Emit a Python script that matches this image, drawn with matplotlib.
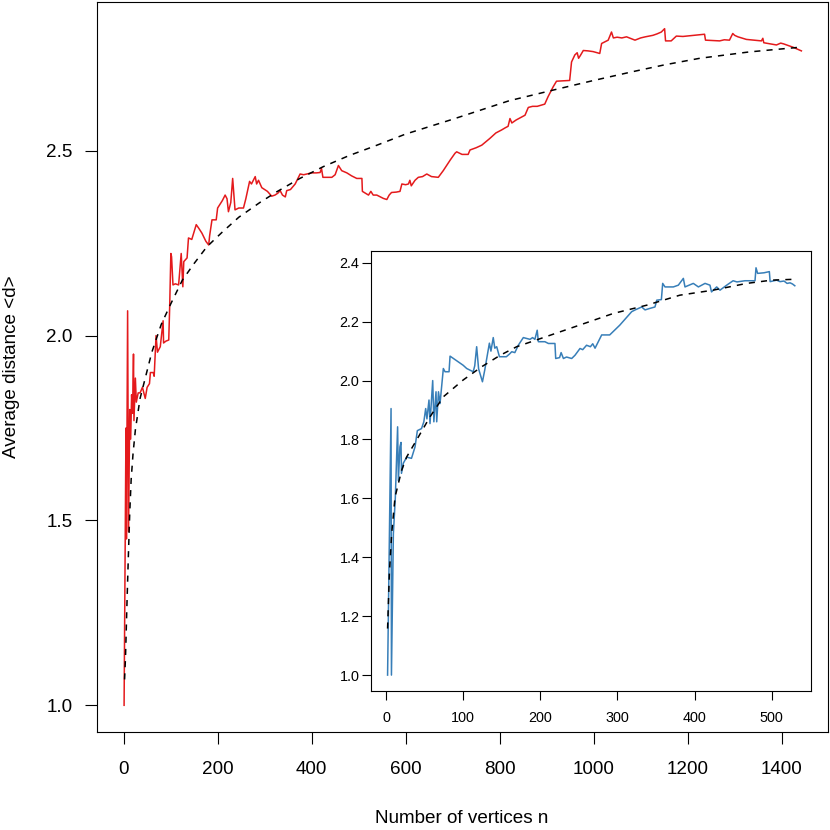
import matplotlib
matplotlib.use("Agg")
import matplotlib.pyplot as plt

plt.rcParams['font.family'] = ['Liberation Sans', 'DejaVu Sans']

RED = '#E41A1C'
BLUE = '#377EB8'

# ---- main network (n up to ~1440) ----
main_n = [1, 5, 6, 8.5, 10.5, 13, 15, 17, 19, 21, 22, 25, 27, 31, 35, 40, 46, 50, 55, 57,
          63, 65, 69, 72, 78, 84, 85, 90, 96, 98, 100.5, 102, 105, 110, 117, 122.5, 126, 128,
          135, 138, 145, 154.5, 160, 166.6, 175, 181, 183, 188, 197, 200, 204, 210, 216, 220,
          223, 228, 232, 237, 245, 255, 260, 268, 272, 280, 283, 287, 294, 300, 306, 315, 322,
          328, 333, 338, 344, 347, 355, 365, 375.5, 383, 390, 400, 410, 418, 421, 424, 435,
          443, 450, 457, 464, 475, 485, 496, 507, 508, 521, 526, 531, 538.6, 552.6, 560, 565,
          570, 580, 588, 592, 600, 606, 609, 612, 620, 627, 636, 645, 655, 669.5, 680, 695,
          705, 708.6, 720, 733, 737, 750, 762, 779, 792, 804, 812, 818, 822, 826, 835, 845,
          854, 861, 870, 880, 896, 903, 914, 921, 935, 949, 953, 960, 965, 968, 972, 978, 988,
          999, 1013, 1017, 1031, 1038, 1042, 1050, 1060, 1070, 1080, 1088, 1100, 1110, 1126,
          1135, 1144, 1151, 1153, 1165, 1170, 1176, 1190, 1205, 1220, 1236, 1238, 1255, 1268,
          1278, 1289, 1296, 1300, 1307, 1325, 1340, 1357, 1360, 1362, 1375, 1389, 1398, 1404,
          1424, 1442]
main_d = [1.0, 1.75, 1.45, 2.067, 1.47, 1.80, 1.72, 1.84, 1.79, 1.95, 1.77, 1.885, 1.82, 1.845,
          1.845, 1.86, 1.83, 1.86, 1.87, 1.90, 1.90, 1.89, 2.0, 1.955, 1.97, 2.04, 1.98, 1.985,
          1.988, 2.078, 2.222, 2.213, 2.137, 2.14, 2.137, 2.222, 2.132, 2.2, 2.21, 2.264, 2.26,
          2.30, 2.29, 2.277, 2.255, 2.245, 2.27, 2.313, 2.313, 2.345, 2.353, 2.365, 2.38, 2.37,
          2.335, 2.36, 2.425, 2.34, 2.345, 2.345, 2.37, 2.417, 2.41, 2.43, 2.41, 2.42, 2.40,
          2.395, 2.39, 2.377, 2.38, 2.385, 2.392, 2.38, 2.375, 2.392, 2.395, 2.41, 2.437, 2.435,
          2.437, 2.44, 2.44, 2.441, 2.452, 2.428, 2.428, 2.428, 2.435, 2.46, 2.446, 2.44, 2.432,
          2.425, 2.425, 2.39, 2.38, 2.39, 2.38, 2.38, 2.371, 2.368, 2.38, 2.387, 2.388, 2.39,
          2.41, 2.408, 2.41, 2.42, 2.405, 2.42, 2.428, 2.43, 2.437, 2.43, 2.428, 2.446, 2.475,
          2.493, 2.497, 2.49, 2.49, 2.502, 2.508, 2.515, 2.533, 2.548, 2.556, 2.562, 2.566,
          2.587, 2.575, 2.583, 2.59, 2.596, 2.617, 2.62, 2.62, 2.626, 2.646, 2.673, 2.688,
          2.689, 2.69, 2.74, 2.759, 2.765, 2.75, 2.758, 2.771, 2.77, 2.768, 2.763, 2.79, 2.799,
          2.821, 2.805, 2.807, 2.805, 2.808, 2.803, 2.799, 2.805, 2.808, 2.812, 2.816, 2.821,
          2.83, 2.797, 2.797, 2.803, 2.81, 2.809, 2.811, 2.813, 2.815, 2.799, 2.798, 2.797,
          2.800, 2.799, 2.817, 2.812, 2.808, 2.801, 2.799, 2.797, 2.804, 2.792, 2.789, 2.786,
          2.791, 2.789, 2.78, 2.77]

# fitted curve
main_fit_n = [2, 4, 7, 10, 13, 16, 20, 25, 35, 45, 60, 80, 100, 125, 150, 177, 210, 245, 290,
              326, 375, 425, 480, 531, 600, 700, 820, 914, 1000, 1084, 1150, 1226, 1330, 1440]
main_fit_d = [1.07, 1.13, 1.27, 1.40, 1.52, 1.61, 1.68, 1.745, 1.83, 1.88, 1.955, 2.03, 2.085,
              2.15, 2.195, 2.24, 2.28, 2.32, 2.36, 2.389, 2.425, 2.457, 2.487, 2.511, 2.545,
              2.585, 2.635, 2.664, 2.69, 2.714, 2.732, 2.75, 2.767, 2.78]

# ---- inset network (n up to ~530) ----
inset_n = [2, 6.5, 7, 9.5, 12, 15, 16, 18, 19.4, 20, 22.5, 26.8, 33, 37.6, 40.6, 46, 49, 51.4,
           53, 55.7, 57, 60.5, 62, 64.8, 65.7, 68, 70, 74.3, 76.5, 81.7, 83, 100, 104.6, 113,
           115, 117.5, 120, 125, 128, 134, 136, 139, 141, 143.5, 147, 156, 160, 163, 167, 171.5,
           178, 186.7, 190, 193, 196, 197.5, 206, 210.5, 219, 220, 225, 227, 230, 234, 240.7,
           245, 251.5, 255, 260, 265, 268, 271, 279.6, 290, 303, 318.5, 323, 331.5, 335.8, 342,
           348.7, 351, 357, 358.7, 361.7, 372.5, 379, 385.5, 387.6, 398.4, 405, 413.6, 420, 422,
           428.7, 433, 441.7, 450, 455, 465.4, 478.4, 479.7, 481.8, 490, 497, 498, 506.5, 510.8,
           516, 520, 523.8, 527, 530]
inset_d = [1.0, 1.905, 1.0, 1.48, 1.60, 1.843, 1.66, 1.775, 1.79, 1.685, 1.72, 1.74, 1.736, 1.775,
           1.83, 1.837, 1.86, 1.905, 1.87, 1.934, 1.854, 2.0, 1.86, 1.962, 1.86, 1.962, 1.922,
           2.041, 2.03, 2.03, 2.083, 2.052, 2.041, 2.03, 2.05, 2.115, 2.04, 1.996, 2.036, 2.127,
           2.10, 2.146, 2.11, 2.115, 2.081, 2.081, 2.09, 2.098, 2.095, 2.12, 2.146, 2.14, 2.146,
           2.14, 2.171, 2.132, 2.132, 2.126, 2.126, 2.075, 2.078, 2.095, 2.075, 2.08, 2.075, 2.086,
           2.109, 2.105, 2.12, 2.115, 2.125, 2.11, 2.155, 2.155, 2.188, 2.234, 2.24, 2.25, 2.24,
           2.245, 2.25, 2.273, 2.275, 2.33, 2.318, 2.318, 2.324, 2.347, 2.318, 2.33, 2.318, 2.33,
           2.324, 2.301, 2.318, 2.307, 2.324, 2.339, 2.335, 2.339, 2.339, 2.383, 2.364, 2.366,
           2.37, 2.336, 2.341, 2.336, 2.338, 2.33, 2.332, 2.328, 2.322]

inset_fit_n = [2, 4.3, 7.3, 11.7, 20.3, 26.8, 42, 57, 74.3, 100, 124, 148, 169.4, 204, 245,
               294.7, 338, 381, 424, 467.6, 500, 530]
inset_fit_d = [1.158, 1.345, 1.48, 1.605, 1.696, 1.741, 1.809, 1.877, 1.945, 2.002, 2.047,
               2.086, 2.115, 2.146, 2.183, 2.228, 2.256, 2.29, 2.307, 2.33, 2.341, 2.344]

main_xticks = [0, 200, 400, 600, 800, 1000, 1200, 1400]
main_yticks = [1.0, 1.5, 2.0, 2.5]
inset_xticks = [0, 100, 200, 300, 400, 500]
inset_yticks = [1.0, 1.2, 1.4, 1.6, 1.8, 2.0, 2.2, 2.4]

W = 830
fig = plt.figure(figsize=(8.3, 8.3), dpi=100)

# main panel
ax = fig.add_axes([97.3 / W, 1 - 732.3 / W, (827.7 - 97.3) / W, (732.3 - 1.7) / W])
ax.plot(main_n, main_d, color=RED, lw=1.1)
ax.plot(main_fit_n, main_fit_d, color='black', lw=1.1, linestyle=(0, (4, 4)))
ax.set_xlim(-56, 1498)
ax.set_ylim(0.927, 2.903)
ax.set_xticks(main_xticks)
ax.set_yticks(main_yticks)
ax.set_yticklabels([f"{v:.1f}" for v in main_yticks])
ax.tick_params(axis='both', direction='out', length=8.4, width=0.8, labelsize=13.6)
ax.tick_params(axis='x', pad=12.3)
ax.tick_params(axis='y', pad=9.3)
for s in ax.spines.values():
    s.set_linewidth(0.8)

fig.text(462 / W, 1 - 823.3 / W, "Number of vertices n", ha='center', va='baseline', fontsize=13.6)
fig.text(11.5 / W, 1 - 367 / W, "Average distance <d>", ha='center', va='center',
         rotation=90, fontsize=13.6)

# inset
axi = fig.add_axes([371 / W, 1 - 690.7 / W, (811 - 371) / W, (690.7 - 251) / W])
axi.plot(inset_n, inset_d, color=BLUE, lw=1.1)
axi.plot(inset_fit_n, inset_fit_d, color='black', lw=1.1, linestyle=(0, (4, 4)))
axi.set_xlim(-19.5, 551)
axi.set_ylim(0.947, 2.44)
axi.set_xticks(inset_xticks)
axi.set_yticks(inset_yticks)
axi.set_yticklabels([f"{v:.1f}" for v in inset_yticks])
axi.tick_params(axis='both', direction='out', length=6.7, width=0.8, labelsize=10.4)
axi.tick_params(axis='x', pad=8.2)
axi.tick_params(axis='y', pad=1.6)
for s in axi.spines.values():
    s.set_linewidth(0.8)

fig.savefig("out.png", dpi=100)
